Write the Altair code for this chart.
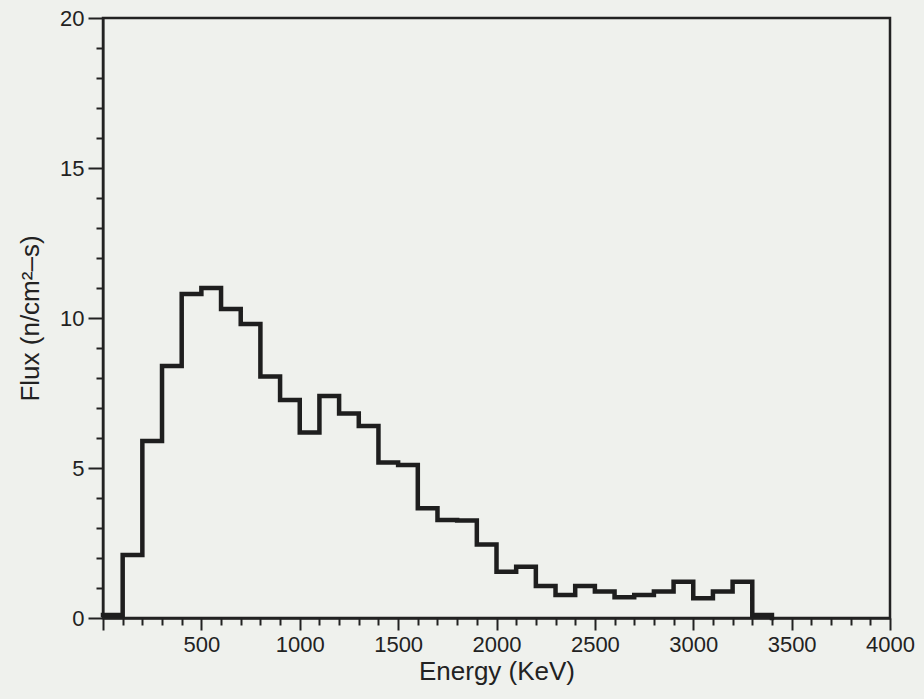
import altair as alt
import pandas as pd

# Neutron flux spectrum, 100 keV bins (bin start energies and flux per bin)
bin_start_kev = list(range(0, 3400, 100))
flux = [
    0.1, 2.1, 5.9, 8.4, 10.8, 11.0, 10.3, 9.8, 8.05, 7.27,
    6.18, 7.4, 6.82, 6.4, 5.18, 5.1, 3.66, 3.27, 3.25, 2.45,
    1.54, 1.71, 1.07, 0.77, 1.07, 0.88, 0.69, 0.77, 0.88, 1.21,
    0.66, 0.88, 1.21, 0.1,
]
end_kev = 3400

x_ticks = list(range(0, 4001, 100))
y_ticks = list(range(0, 21, 1))

# Step line: each bin's value is held until the next bin edge, then drops to zero
df = pd.DataFrame({
    "energy": bin_start_kev + [end_kev],
    "flux": flux + [0.0],
})

FONT = "Liberation Sans"
INK = "#222222"

x_axis = alt.Axis(
    values=x_ticks,
    format="d",
    labelExpr="datum.value % 500 === 0 && datum.value > 0 ? datum.label : ''",
    tickSize={"condition": {"test": "datum.value % 500 === 0", "value": 12}, "value": 7},
    tickColor=INK,
    tickWidth=2,
    domainColor=INK,
    domainWidth=2.5,
    labelFont=FONT,
    labelFontSize=22,
    labelColor=INK,
    labelPadding=4,
    labelOverlap=False,
    labelFlush=False,
    grid=False,
    title="Energy (KeV)",
    titleFont=FONT,
    titleFontSize=26,
    titleFontWeight="normal",
    titleColor=INK,
    titlePadding=3,
)

y_axis = alt.Axis(
    values=y_ticks,
    format="d",
    labelExpr="datum.value % 5 === 0 ? datum.label : ''",
    tickSize={"condition": {"test": "datum.value % 5 === 0", "value": 15}, "value": 7},
    tickColor=INK,
    tickWidth=2,
    domainColor=INK,
    domainWidth=2,
    labelFont=FONT,
    labelFontSize=22,
    labelColor=INK,
    labelPadding=4,
    labelOverlap=False,
    labelFlush=False,
    grid=False,
    title="Flux (n/cm²–s)",
    titleFont=FONT,
    titleFontSize=26,
    titleFontWeight="normal",
    titleColor=INK,
    titlePadding=16,
)

chart = (
    alt.Chart(df)
    .mark_line(interpolate="step-after", color="#1e1e1e", strokeWidth=4.5, strokeJoin="miter", strokeCap="square")
    .encode(
        x=alt.X("energy:Q", scale=alt.Scale(domain=[0, 4000], nice=False, zero=True), axis=x_axis),
        y=alt.Y("flux:Q", scale=alt.Scale(domain=[0, 20], nice=False), axis=y_axis),
    )
    .properties(
        width=787,
        height=600,
        background="#eff1ed",
        padding={"left": 103, "top": 18, "right": 34, "bottom": 81},
        autosize=alt.AutoSizeParams(type="none"),
    )
    .configure_view(stroke=INK, strokeWidth=2.5)
)

chart.save("out.html", embed_options={"renderer": "svg", "actions": False})
